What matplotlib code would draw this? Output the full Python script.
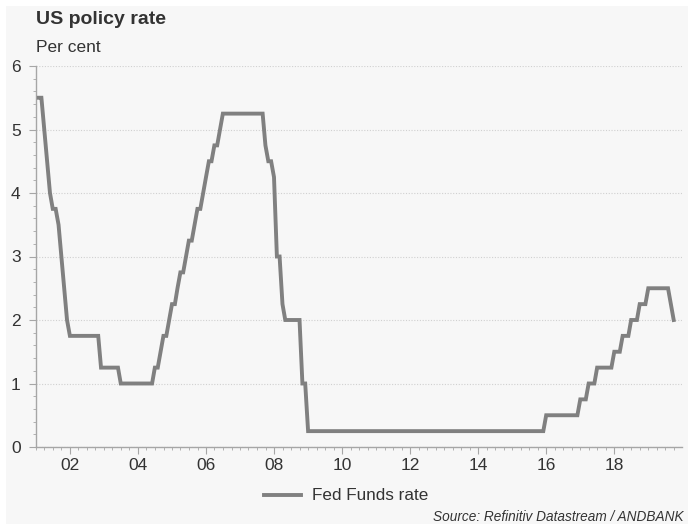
import numpy as np
import pandas as pd
import matplotlib
matplotlib.use("Agg")
import matplotlib.pyplot as plt
import matplotlib.dates as mdates
from matplotlib.patches import Rectangle

plt.rcParams['font.family'] = ['Liberation Sans', 'DejaVu Sans']

# Fed funds target rate (upper bound), month-end, Jan 2001 - Sep 2019
rate_2001 = [5.5, 5.5, 5.0, 4.5, 4.0, 3.75, 3.75, 3.5, 3.0, 2.5, 2.0, 1.75]
rate_2002 = [1.75] * 10 + [1.25, 1.25]
rate_2003 = [1.25] * 5 + [1.0] * 7
rate_2004 = [1.0] * 5 + [1.25, 1.25, 1.5, 1.75, 1.75, 2.0, 2.25]
rate_2005 = [2.25, 2.5, 2.75, 2.75, 3.0, 3.25, 3.25, 3.5, 3.75, 3.75, 4.0, 4.25]
rate_2006 = [4.5, 4.5, 4.75, 4.75, 5.0] + [5.25] * 7
rate_2007 = [5.25] * 8 + [4.75, 4.5, 4.5, 4.25]
rate_2008 = [3.0, 3.0, 2.25] + [2.0] * 6 + [1.0, 1.0, 0.25]
rate_2009_2014 = [0.25] * 72
rate_2015 = [0.25] * 11 + [0.5]
rate_2016 = [0.5] * 11 + [0.75]
rate_2017 = [0.75, 0.75, 1.0, 1.0, 1.0] + [1.25] * 6 + [1.5]
rate_2018 = [1.5, 1.5, 1.75, 1.75, 1.75, 2.0, 2.0, 2.0, 2.25, 2.25, 2.25, 2.5]
rate_2019 = [2.5] * 7 + [2.25, 2.0]

fed_funds = (rate_2001 + rate_2002 + rate_2003 + rate_2004 + rate_2005 + rate_2006
             + rate_2007 + rate_2008 + rate_2009_2014 + rate_2015 + rate_2016
             + rate_2017 + rate_2018 + rate_2019)
dates = pd.date_range("2001-01-31", periods=len(fed_funds), freq="ME")

bg = "#f7f7f7"
fig = plt.figure(figsize=(6.88, 5.24), dpi=100, facecolor="white")
fig.patches.append(Rectangle((6 / 688, 0), 1, 1 - 6 / 524, transform=fig.transFigure,
                             facecolor=bg, edgecolor="none", zorder=-10))

ax = fig.add_axes([36 / 688, 77 / 524, 646 / 688, 381 / 524])
ax.set_facecolor(bg)

ax.plot(dates, fed_funds, color="#808080", lw=2.8, label="Fed Funds rate",
        solid_joinstyle="miter", zorder=3)

ax.set_xlim(pd.Timestamp("2001-01-01"), pd.Timestamp("2019-12-28"))
ax.set_ylim(0, 6)
ax.xaxis.set_major_locator(mdates.YearLocator(2))
ax.xaxis.set_major_formatter(mdates.DateFormatter("%y"))
ax.xaxis.set_minor_locator(mdates.MonthLocator(bymonth=[1, 4, 7, 10]))
ax.set_yticks(range(0, 7))
ax.set_yticks(np.arange(0, 6.01, 0.2), minor=True)

ax.grid(axis="y", which="major", color="#d0d0d0", linestyle=(0, (1, 1.5)), lw=0.8)
for s in ["top", "right"]:
    ax.spines[s].set_visible(False)
for s in ["left", "bottom"]:
    ax.spines[s].set_color("#a6a6a6")
    ax.spines[s].set_linewidth(1.0)

ax.tick_params(which="major", length=5, color="#a6a6a6", labelsize=12.5,
               labelcolor="#333333", pad=3)
ax.tick_params(which="minor", length=2.5, color="#a6a6a6")
ax.tick_params(axis="y", pad=6)

fig.text(36 / 688, 1 - 20 / 524, "US policy rate", fontsize=14, fontweight="bold",
         color="#333333", va="center", ha="left")
fig.text(36 / 688, 1 - 47 / 524, "Per cent", fontsize=12.5, color="#333333",
         va="center", ha="left")

leg = fig.legend(loc="center", bbox_to_anchor=(346 / 688, 1 - 496 / 524), frameon=False,
                 fontsize=12.3, handlelength=2.2, handletextpad=0.6)
for t in leg.get_texts():
    t.set_color("#333333")

fig.text(684 / 688, 1 - 517 / 524, "Source: Refinitiv Datastream / ANDBANK",
         fontsize=9.8, style="italic", color="#333333", ha="right", va="center")

fig.savefig("out.png", dpi=100, facecolor="white")
